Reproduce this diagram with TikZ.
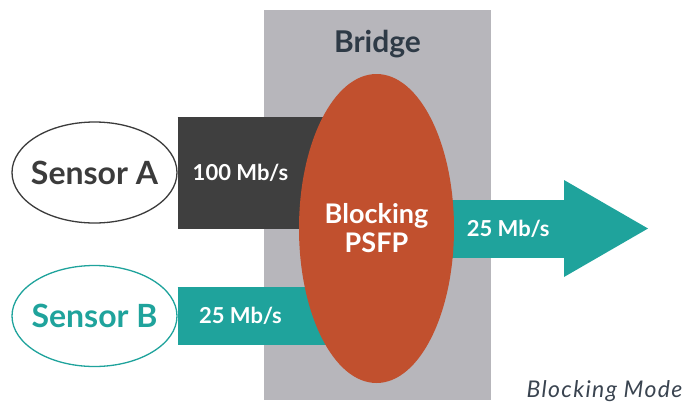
\documentclass[tikz,border=0pt]{standalone}
\usepackage{fontspec}
\setmainfont{Lato}
\usetikzlibrary{shapes.geometric,arrows.meta,backgrounds}
\definecolor{bridgegray}{HTML}{B7B6BB}
\definecolor{bridgetext}{HTML}{2E3A46}
\definecolor{psfpred}{HTML}{C1502E}
\definecolor{bardark}{HTML}{3F3F3F}
\definecolor{sensordark}{HTML}{3B3B3B}
\definecolor{flowteal}{HTML}{1FA39C}
\definecolor{modegray}{HTML}{3A4450}

\begin{document}
\begin{tikzpicture}[x=1pt,y=-1pt,
        sensor/.style={ellipse,draw=#1,line width=1.3pt,fill=white,minimum width=165pt,minimum height=101pt,inner sep=0pt},
        sensorlabel/.style={text=#1,font=\fontsize{32}{34}\selectfont\bfseries},
        psfp/.style={ellipse,fill=psfpred,minimum width=155pt,minimum height=309pt,inner sep=0pt,text=white,align=center,font=\fontsize{27}{29}\selectfont\bfseries},
        bridgebox/.style={fill=bridgegray,minimum width=227pt,minimum height=390pt,inner sep=0pt},
        flow/.style={draw=#1,line width=58pt},
        rate/.style={text=white,inner sep=0pt,font=\fontsize{22}{24}\selectfont\bfseries}]
    \useasboundingbox (0,0) rectangle (691,402);
    \node[psfp] (psfp) at (376.5,228.5) {Blocking\\PSFP};
    \node[sensor=sensordark,label={[sensorlabel=sensordark]center:Sensor A}] (sensA) at (94.5,172.5) {};
    \node[sensor=flowteal,label={[sensorlabel=flowteal]center:Sensor B}] (sensB) at (94.5,316) {};
    \coordinate (out) at ([xshift=271.5pt]psfp.center);
    \begin{scope}[on background layer]
        \node[bridgebox] (bridge) at (377.5,205) {};
        \node[anchor=base,text=bridgetext,font=\fontsize{30}{32}\selectfont\bfseries] (bridgelabel) at ([yshift=-43pt]bridge.north) {Bridge};
        \draw[flow=bardark,line width=112pt] (sensA.east) -- (sensA.east -| psfp.center) node[rate,pos=.316] (rateA) {100 Mb/s};
        \draw[flow=flowteal] (sensB.east) -- (sensB.east -| psfp.center) node[rate,pos=.316] (rateB) {25 Mb/s};
        \draw[flow=flowteal,-{Triangle[length=84pt,width=97pt,line width=0pt]}] (psfp.center) -- (out);
        \path (psfp.center) -- (out) node[rate,pos=.485] (rateout) {25 Mb/s};
    \end{scope}
    \node[anchor=base west,text=modegray,font=\fontsize{23}{25}\selectfont\itshape\addfontfeatures{LetterSpace=6}] (mode) at (523,397) {Blocking Mode};
\end{tikzpicture}
\end{document}
